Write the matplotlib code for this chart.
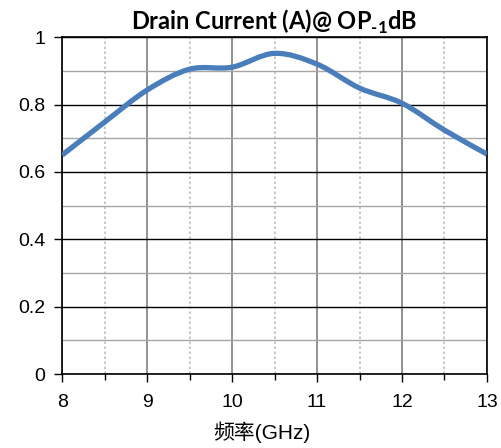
import matplotlib
matplotlib.use('Agg')
import matplotlib.pyplot as plt
from matplotlib.path import Path
from matplotlib.patches import PathPatch
from matplotlib.ticker import MultipleLocator

plt.rcParams['mathtext.fontset'] = 'custom'
plt.rcParams['mathtext.rm'] = 'Lato:bold'

# frequency (GHz) and drain current (A)
freq = [8, 8.5, 9, 9.5, 10, 10.5, 11, 11.5, 12, 12.5, 13]
current = [0.65, 0.748, 0.843, 0.905, 0.911, 0.952, 0.92, 0.849, 0.804, 0.724, 0.653]

x_ticks = [8, 9, 10, 11, 12, 13]
y_ticks = [0, 0.2, 0.4, 0.6, 0.8, 1]
y_labels = ['0', '0.2', '0.4', '0.6', '0.8', '1']


def smooth_path(xs, ys, t=1 / 6):
    # Excel-style smoothed line: cubic bezier through every point
    verts = [(xs[0], ys[0])]
    codes = [Path.MOVETO]
    n = len(xs)
    for i in range(n - 1):
        x0, y0 = xs[max(i - 1, 0)], ys[max(i - 1, 0)]
        x1, y1 = xs[i], ys[i]
        x2, y2 = xs[i + 1], ys[i + 1]
        x3, y3 = xs[min(i + 2, n - 1)], ys[min(i + 2, n - 1)]
        c1 = (x1 + (x2 - x0) * t, y1 + (y2 - y0) * t)
        c2 = (x2 - (x3 - x1) * t, y2 - (y3 - y1) * t)
        verts += [c1, c2, (x2, y2)]
        codes += [Path.CURVE4] * 3
    return Path(verts, codes)


fig, ax = plt.subplots(figsize=(5.01, 4.48), dpi=100)
fig.subplots_adjust(left=0.124, right=0.972, top=0.917, bottom=0.165)

ax.set_xlim(8, 13)
ax.set_ylim(0, 1)
ax.set_xticks(x_ticks)
ax.set_xticklabels([str(v) for v in x_ticks], fontfamily='Liberation Sans', fontsize=14)
ax.set_yticks(y_ticks)
ax.set_yticklabels(y_labels, fontfamily='Liberation Sans', fontsize=14)
ax.xaxis.set_minor_locator(MultipleLocator(0.5))
ax.yaxis.set_minor_locator(MultipleLocator(0.1))
ax.tick_params(axis='both', which='major', direction='out', length=6, width=1, color='black', pad=6)
ax.tick_params(axis='x', which='major', pad=8)
ax.tick_params(axis='x', which='minor', direction='out', length=4, width=1, color='black')
ax.tick_params(axis='y', which='minor', length=0)

# grid
ax.grid(axis='x', which='major', color='#7f7f7f', linewidth=1.2)
ax.grid(axis='x', which='minor', color='#bfbfbf', linewidth=1.2, linestyle=(0, (1.5, 1.5)))
ax.grid(axis='y', which='major', color='black', linewidth=1)
ax.grid(axis='y', which='minor', color='#a6a6a6', linewidth=1)
ax.set_axisbelow(True)
for s in ax.spines.values():
    s.set_color('black')
    s.set_linewidth(1.2)

patch = PathPatch(smooth_path(freq, current), facecolor='none', edgecolor='#4a7ebb',
                  linewidth=3.8, capstyle='butt', joinstyle='round', zorder=3)
ax.add_patch(patch)

ax.set_title('Drain Current (A)@ OP$_{\\text{-1}}$dB', fontfamily='Lato',
             fontweight='bold', fontsize=17, pad=5)
ax.set_xlabel('频率(GHz)', fontfamily=['Liberation Sans', 'Noto Sans CJK SC'], fontsize=15)
ax.xaxis.set_label_coords(0.47, -0.142)

plt.savefig('out.png', dpi=100)
